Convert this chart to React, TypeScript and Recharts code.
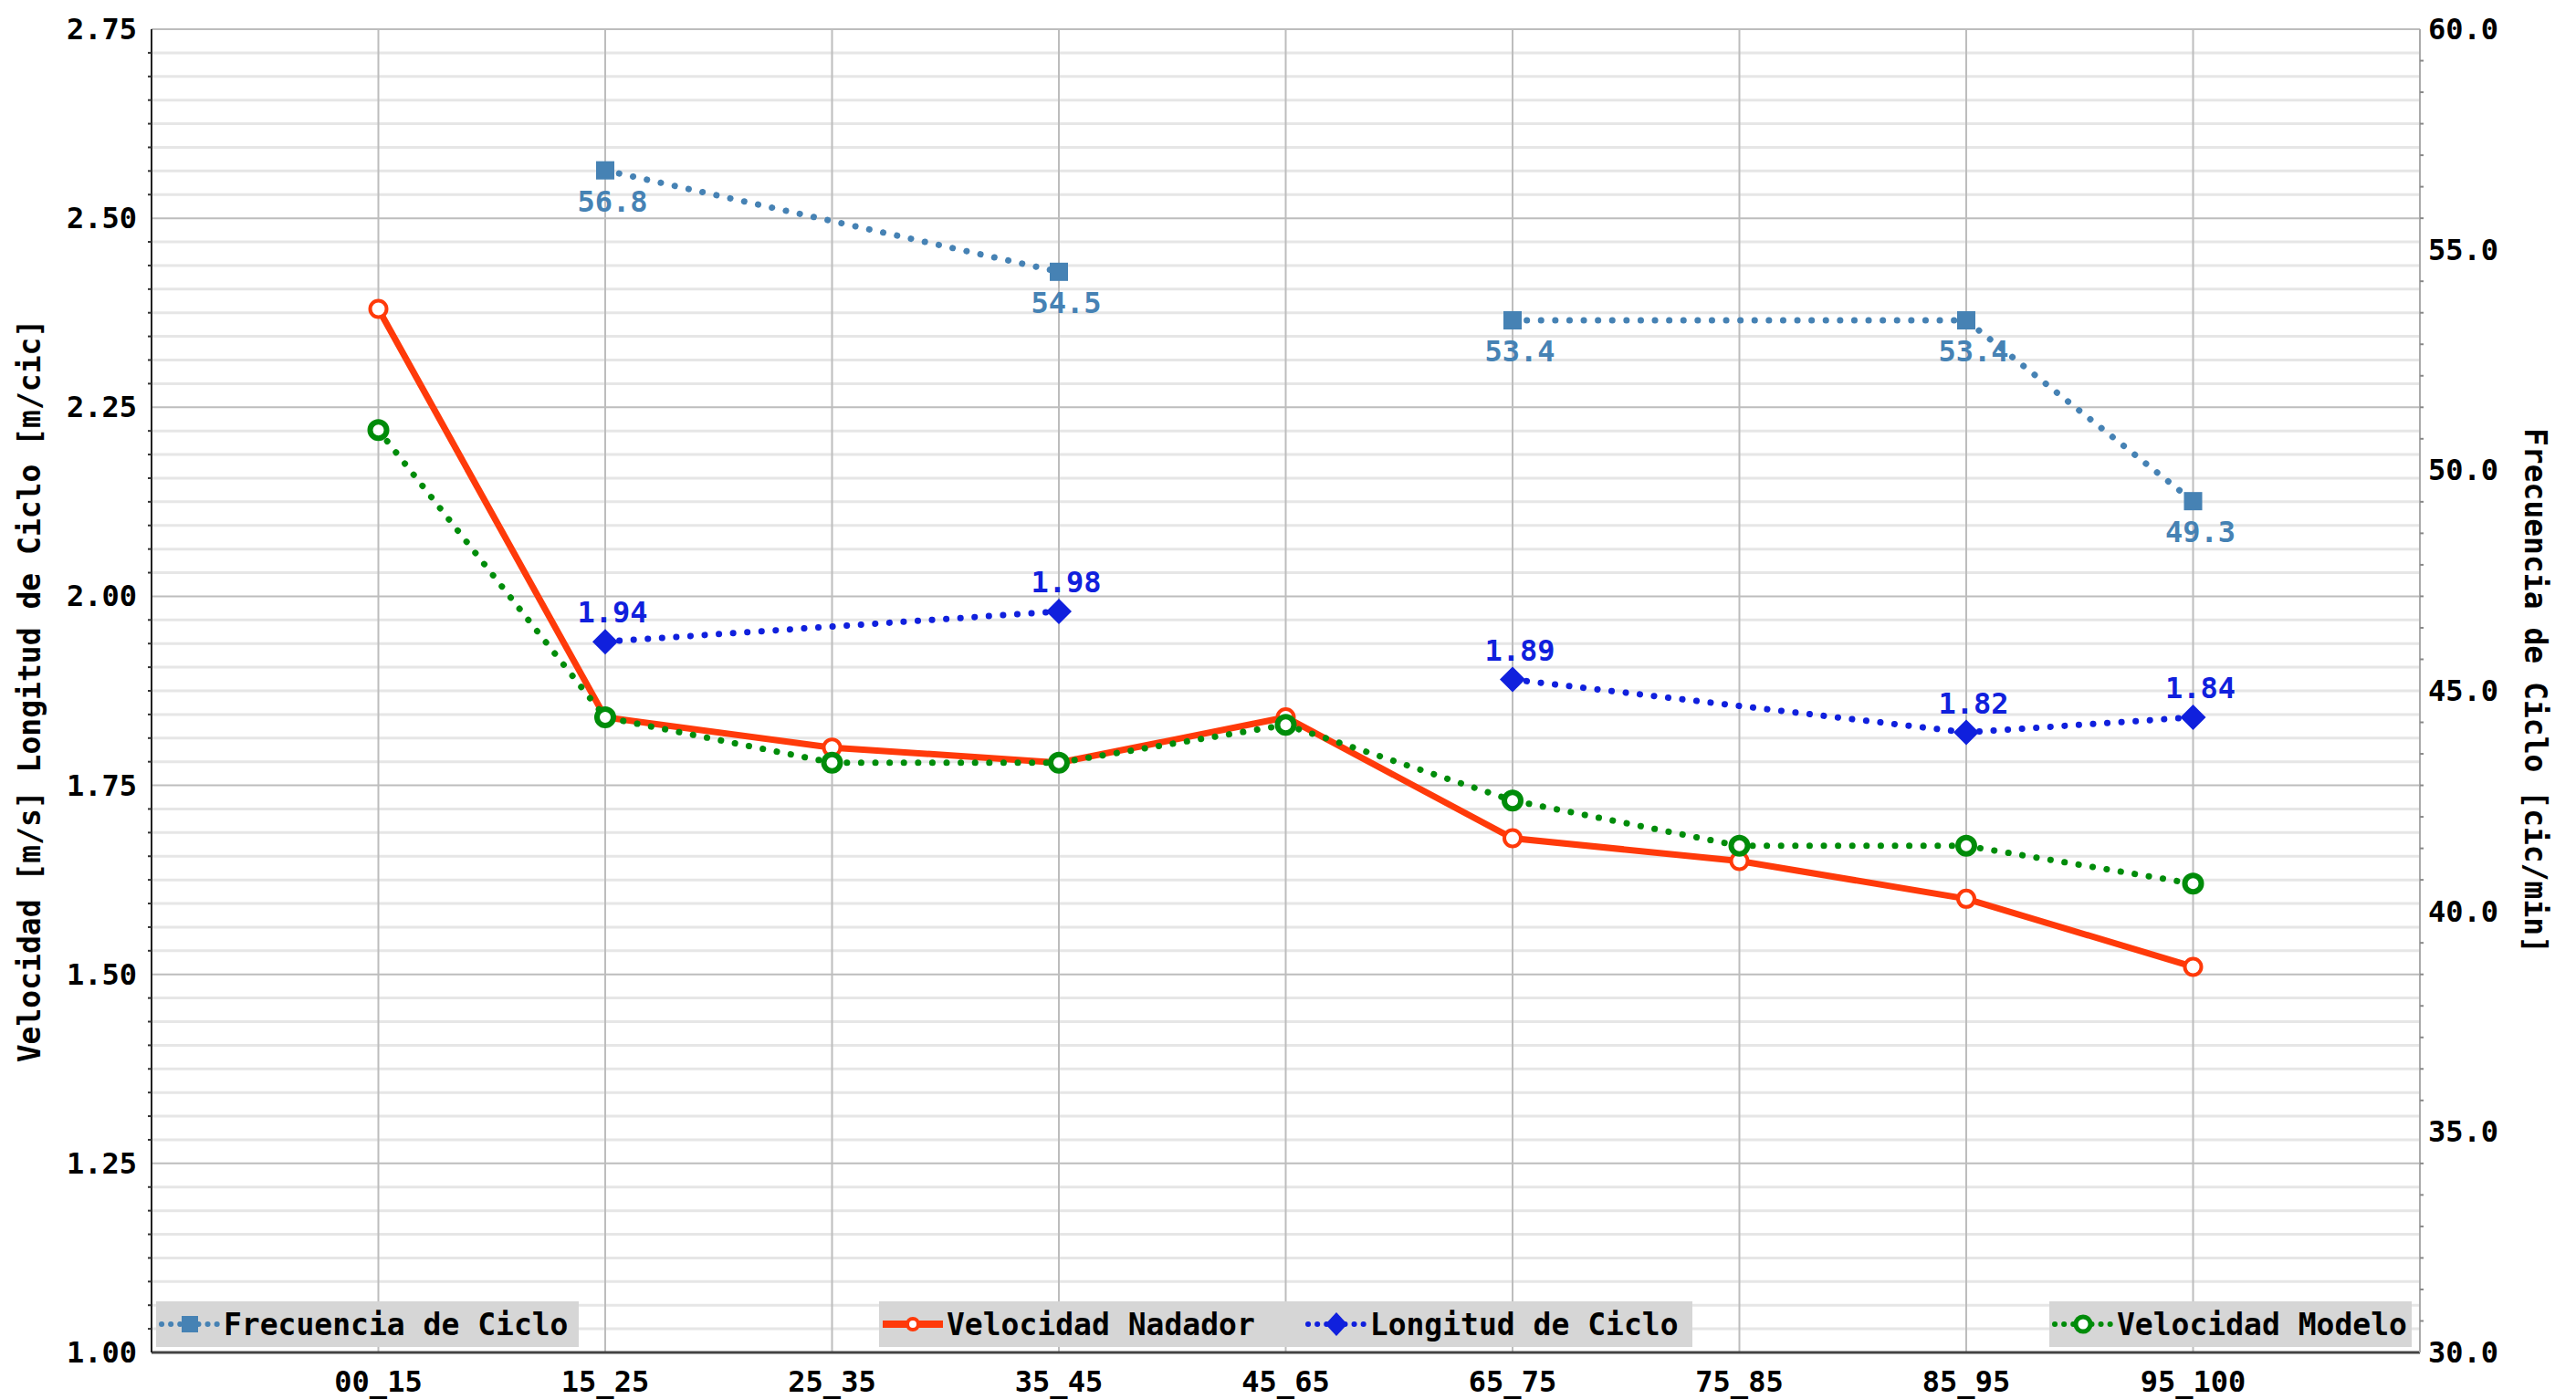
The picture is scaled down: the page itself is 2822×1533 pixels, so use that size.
import { CartesianGrid, LabelList, Line, LineChart, XAxis, YAxis } from 'recharts';

const CATEGORIES = ['00_15', '15_25', '25_35', '35_45', '45_65', '65_75', '75_85', '85_95', '95_100'];
const VEL_NADADOR = [2.38, 1.84, 1.8, 1.78, 1.84, 1.68, 1.65, 1.6, 1.51];
const VEL_MODELO = [2.22, 1.84, 1.78, 1.78, 1.83, 1.73, 1.67, 1.67, 1.62];
const LONG_CICLO = [null, 1.94, null, 1.98, null, 1.89, null, 1.82, 1.84];
const FREC_CICLO = [null, 56.8, null, 54.5, null, 53.4, null, 53.4, 49.3];
// the cycle series break at this category
const GAP_CATEGORY = '45_65';

const LEFT_TICKS = [1.0, 1.25, 1.5, 1.75, 2.0, 2.25, 2.5, 2.75];
const RIGHT_TICKS = [30, 35, 40, 45, 50, 55, 60];
const LEFT_MINOR_STEPS = 8;
const RIGHT_MINOR_STEPS = 7;

const FONT = '"DejaVu Sans Mono", monospace';
const RED = '#ff3a0a';
const GREEN = '#008c0a';
const BLUE = '#1020dd';
const STEEL = '#4682b4';

const W = 2822;
const H = 1533;

const gapIdx = CATEGORIES.indexOf(GAP_CATEGORY);

const data = CATEGORIES.map((cat, i) => ({
  idx: i + 1,
  cat,
  nadador: VEL_NADADOR[i],
  modelo: VEL_MODELO[i],
  longA: i < gapIdx ? LONG_CICLO[i] : null,
  longB: i > gapIdx ? LONG_CICLO[i] : null,
  frecA: i < gapIdx ? FREC_CICLO[i] : null,
  frecB: i > gapIdx ? FREC_CICLO[i] : null,
}));

function subdivide(majors: number[], steps: number) {
  const out: number[] = [];
  for (let i = 0; i < majors.length - 1; i++) {
    const a = majors[i];
    const b = majors[i + 1];
    for (let k = 0; k < steps; k++) out.push(a + ((b - a) * k) / steps);
  }
  out.push(majors[majors.length - 1]);
  return out;
}

const leftAll = subdivide(LEFT_TICKS, LEFT_MINOR_STEPS);
const leftMinor = leftAll.filter((v) => !LEFT_TICKS.some((m) => Math.abs(m - v) < 1e-9));
const rightAll = subdivide(RIGHT_TICKS, RIGHT_MINOR_STEPS);

const isMajor = (v: number, majors: number[]) => majors.some((m) => Math.abs(m - v) < 1e-9);

const LeftTick = (props: any) => {
  const { x, y, payload } = props;
  const axisX = x + 16;
  const major = isMajor(payload.value, LEFT_TICKS);
  return (
    <g>
      {!major && <line x1={axisX - 4} x2={axisX} y1={y} y2={y} stroke="#333" strokeWidth={2} />}
      {major && (
        <text x={x} y={y} dy={11} textAnchor="end" fontFamily={FONT} fontWeight="bold" fontSize={32} fill="#000">
          {payload.value.toFixed(2)}
        </text>
      )}
    </g>
  );
};

const RightTick = (props: any) => {
  const { x, y, payload } = props;
  const axisX = x - 9;
  const major = isMajor(payload.value, RIGHT_TICKS);
  return (
    <g>
      {!major && <line x1={axisX} x2={axisX + 4} y1={y} y2={y} stroke="#888" strokeWidth={2} />}
      {major && (
        <text x={x} y={y} dy={11} textAnchor="start" fontFamily={FONT} fontWeight="bold" fontSize={32} fill="#000">
          {payload.value.toFixed(1)}
        </text>
      )}
    </g>
  );
};

const CircleDot = (color: string, r: number, sw: number) => (props: any) => {
  const { cx, cy, index } = props;
  if (cx == null || cy == null) return <g key={index} />;
  return <circle key={index} cx={cx} cy={cy} r={r} fill="#fff" stroke={color} strokeWidth={sw} />;
};

const SquareDot = (props: any) => {
  const { cx, cy, index, value } = props;
  if (value == null || cy == null) return <g key={index} />;
  return <rect key={index} x={cx - 10} y={cy - 10} width={20} height={20} fill={STEEL} />;
};

const DiamondDot = (props: any) => {
  const { cx, cy, index, value } = props;
  if (value == null || cy == null) return <g key={index} />;
  return <polygon key={index} points={`${cx},${cy - 14} ${cx + 14},${cy} ${cx},${cy + 14} ${cx - 14},${cy}`} fill={BLUE} />;
};

const labelBelow = (props: any) => {
  const { x, y, value } = props;
  if (value == null) return null;
  return (
    <text x={x + 8} y={y + 45} textAnchor="middle" fontFamily={FONT} fontWeight="bold" fontSize={32} fill={STEEL}>
      {value.toFixed(1)}
    </text>
  );
};

const labelAbove = (props: any) => {
  const { x, y, value } = props;
  if (value == null) return null;
  return (
    <text x={x + 8} y={y - 21} textAnchor="middle" fontFamily={FONT} fontWeight="bold" fontSize={32} fill={BLUE}>
      {value.toFixed(2)}
    </text>
  );
};

const dotted = { strokeDasharray: '0.1 15.5', strokeLinecap: 'round' as const, strokeWidth: 7 };

function Sample({ kind }: { kind: string }) {
  return (
    <svg width={70} height={30} style={{ display: 'block' }}>
      {kind === 'frec' && (
        <>
          <line x1={4} x2={66} y1={15} y2={15} stroke={STEEL} strokeWidth={6} strokeDasharray="0.1 10" strokeLinecap="round" />
          <rect x={26} y={6} width={18} height={18} fill={STEEL} />
        </>
      )}
      {kind === 'nadador' && (
        <>
          <line x1={2} x2={68} y1={15} y2={15} stroke={RED} strokeWidth={8} />
          <circle cx={35} cy={15} r={6} fill="#fff" stroke={RED} strokeWidth={4} />
        </>
      )}
      {kind === 'long' && (
        <>
          <line x1={4} x2={66} y1={15} y2={15} stroke={BLUE} strokeWidth={6} strokeDasharray="0.1 10" strokeLinecap="round" />
          <polygon points="35,2 47,15 35,28 23,15" fill={BLUE} />
        </>
      )}
      {kind === 'modelo' && (
        <>
          <line x1={4} x2={66} y1={15} y2={15} stroke={GREEN} strokeWidth={6} strokeDasharray="0.1 10" strokeLinecap="round" />
          <circle cx={35} cy={15} r={8} fill="#fff" stroke={GREEN} strokeWidth={5} />
        </>
      )}
    </svg>
  );
}

function LegendBox({ left, width, items }: { left: number; width: number; items: { kind: string; label: string; gap?: number }[] }) {
  return (
    <div
      style={{
        position: 'absolute',
        left,
        top: 1426,
        width,
        height: 50,
        background: '#d6d6d6',
        display: 'flex',
        alignItems: 'center',
        fontFamily: FONT,
        fontWeight: 'bold',
        fontSize: 33,
        color: '#000',
      }}
    >
      {items.map((it) => (
        <div key={it.label} style={{ display: 'flex', alignItems: 'center', marginLeft: it.gap ?? 2 }}>
          <Sample kind={it.kind} />
          <span style={{ marginLeft: 2 }}>{it.label}</span>
        </div>
      ))}
    </div>
  );
}

export default function App() {
  return (
    <div style={{ position: 'absolute', left: 0, top: 0, width: W, height: H, background: '#fff' }}>
      <LineChart width={W} height={H} data={data} margin={{ top: 32, right: 51, bottom: 6, left: 46 }}>
        <CartesianGrid yAxisId="left" vertical={false} horizontalValues={leftMinor} stroke="#e6e6e6" strokeWidth={3} />
        <CartesianGrid yAxisId="left" horizontalValues={LEFT_TICKS} stroke="#bdbdbd" strokeWidth={2} />
        <XAxis
          dataKey="idx"
          type="number"
          domain={[0, 10]}
          ticks={CATEGORIES.map((_, i) => i + 1)}
          tickFormatter={(v: number) => CATEGORIES[v - 1] ?? ''}
          height={45}
          tickSize={0}
          tickMargin={20}
          axisLine={{ stroke: '#444', strokeWidth: 3 }}
          tick={{ fontFamily: FONT, fontWeight: 'bold', fontSize: 32, fill: '#000' }}
          interval={0}
        />
        <YAxis
          yAxisId="left"
          domain={[1, 2.75]}
          ticks={leftAll}
          interval={0}
          width={120}
          tickSize={0}
          tickMargin={16}
          tickLine={false}
          axisLine={{ stroke: '#222', strokeWidth: 2 }}
          tick={LeftTick}
          allowDataOverflow
          label={(p: any) => {
            const vb = p.viewBox;
            const cx = vb.x - 14;
            const cy = vb.y + vb.height / 2;
            return (
              <text
                x={cx}
                y={cy}
                transform={`rotate(-90 ${cx} ${cy})`}
                textAnchor="middle"
                dominantBaseline="central"
                fontFamily={FONT}
                fontWeight="bold"
                fontSize={33}
                fill="#000"
              >
                Velocidad [m/s] Longitud de Ciclo [m/cic]
              </text>
            );
          }}
        />
        <YAxis
          yAxisId="right"
          orientation="right"
          domain={[30, 60]}
          ticks={rightAll}
          interval={0}
          width={120}
          tickSize={0}
          tickMargin={9}
          tickLine={false}
          axisLine={{ stroke: '#aaa', strokeWidth: 2 }}
          tick={RightTick}
          allowDataOverflow
          label={(p: any) => {
            const vb = p.viewBox;
            const cx = vb.x + 126;
            const cy = vb.y + vb.height / 2;
            return (
              <text
                x={cx}
                y={cy}
                transform={`rotate(90 ${cx} ${cy})`}
                textAnchor="middle"
                dominantBaseline="central"
                fontFamily={FONT}
                fontWeight="bold"
                fontSize={33}
                fill="#000"
              >
                Frecuencia de Ciclo [cic/min]
              </text>
            );
          }}
        />
        <Line yAxisId="right" dataKey="frecA" stroke={STEEL} {...dotted} dot={SquareDot} connectNulls isAnimationActive={false}>
          <LabelList dataKey="frecA" content={labelBelow} />
        </Line>
        <Line yAxisId="right" dataKey="frecB" stroke={STEEL} {...dotted} dot={SquareDot} connectNulls isAnimationActive={false}>
          <LabelList dataKey="frecB" content={labelBelow} />
        </Line>
        <Line yAxisId="left" dataKey="nadador" stroke={RED} strokeWidth={7} dot={CircleDot(RED, 9, 4)} isAnimationActive={false} />
        <Line yAxisId="left" dataKey="longA" stroke={BLUE} {...dotted} dot={DiamondDot} connectNulls isAnimationActive={false}>
          <LabelList dataKey="longA" content={labelAbove} />
        </Line>
        <Line yAxisId="left" dataKey="longB" stroke={BLUE} {...dotted} dot={DiamondDot} connectNulls isAnimationActive={false}>
          <LabelList dataKey="longB" content={labelAbove} />
        </Line>
        <Line yAxisId="left" dataKey="modelo" stroke={GREEN} {...dotted} dot={CircleDot(GREEN, 9, 6)} isAnimationActive={false} />
      </LineChart>
      <LegendBox left={171} width={463} items={[{ kind: 'frec', label: 'Frecuencia de Ciclo' }]} />
      <LegendBox
        left={963}
        width={891}
        items={[
          { kind: 'nadador', label: 'Velocidad Nadador' },
          { kind: 'long', label: 'Longitud de Ciclo', gap: 54 },
        ]}
      />
      <LegendBox left={2245} width={397} items={[{ kind: 'modelo', label: 'Velocidad Modelo' }]} />
    </div>
  );
}
